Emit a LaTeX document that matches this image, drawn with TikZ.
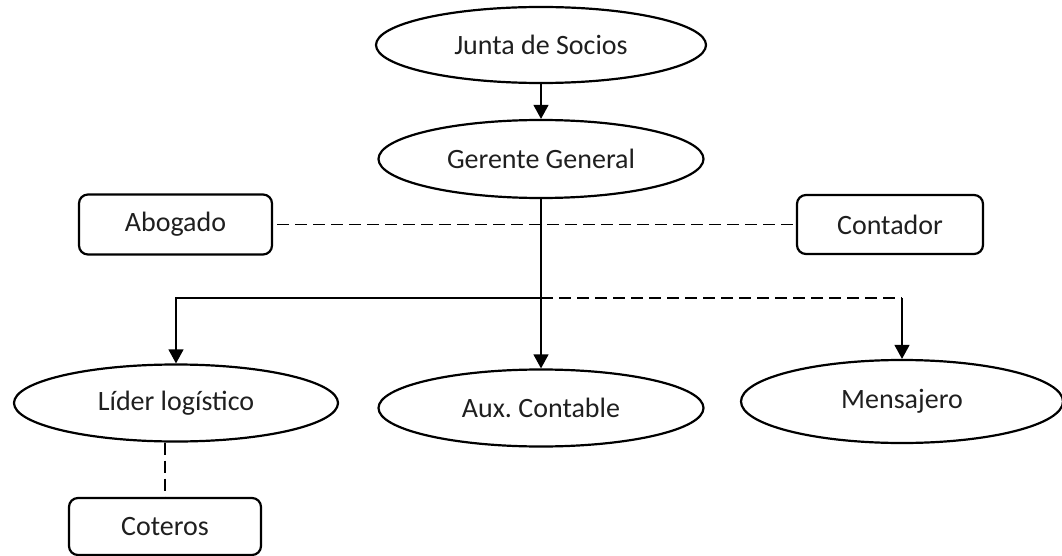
\documentclass[tikz,border=0pt]{standalone}
\usepackage{fontspec}
\setmainfont{Carlito}
\usetikzlibrary{shapes.geometric,arrows.meta}
\frenchspacing

\tikzset{
  unit/.style={draw, line width=2.2pt, inner sep=0pt, font=\fontsize{28}{33}\selectfont, text=black!88},
  oval/.style={unit, ellipse},
  card/.style={unit, rectangle, rounded corners=9pt},
  link/.style={line width=1.3pt, draw=black},
  arrowlink/.style={link, -{Triangle[width=15pt,length=14pt]}},
  dotted link/.style={link, dash pattern=on 12pt off 6pt},
}

\begin{document}
\begin{tikzpicture}[x=1pt,y=-1pt]
  \useasboundingbox (0,0) rectangle (1062,556);

  % top of the hierarchy
  \node[oval, minimum width=330pt, minimum height=76pt] (junta) at (541,45) {Junta de Socios};
  \node[oval, minimum width=325pt, minimum height=78pt] (gerente) at (541,159) {Gerente General};

  % advisors
  \node[card, minimum width=193pt, minimum height=60pt] (abogado) at (175.5,224.5) {Abogado};
  \node[card, minimum width=186pt, minimum height=59pt] (contador) at (890,224.5) {Contador};

  % operational staff
  \node[oval, minimum width=324pt, minimum height=77pt] (lider) at (176,403) {Líder logístico};
  \node[oval, minimum width=325pt, minimum height=77pt] (aux) at (541,408) {Aux. Contable};
  \node[oval, minimum width=322pt, minimum height=83pt] (mensajero) at (902,401.5) {Mensajero};
  \node[card, minimum width=192pt, minimum height=57pt] (coteros) at (165,526.5) {Coteros};

  % branching points under the manager
  \coordinate (branch) at (541,298);
  \coordinate (corner) at (branch -| mensajero.north);

  % connectors
  \draw[arrowlink] (junta) -- (gerente);
  \draw[arrowlink] (gerente) -- (aux);
  \draw[arrowlink] (branch) -| (lider.north);
  \draw[dotted link] (branch) -- (corner);
  \draw[arrowlink] (corner) -- (mensajero.north);
  \draw[dotted link] ([xshift=4pt]abogado.east) -- (contador.west);
  \draw[dotted link] (coteros.north |- lider.south) -- (coteros.north);
\end{tikzpicture}
\end{document}
